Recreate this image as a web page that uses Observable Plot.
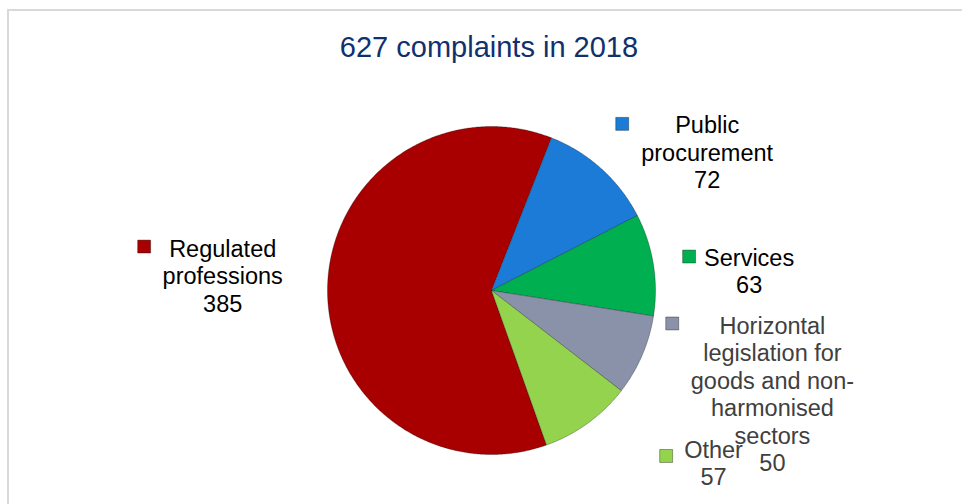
<!DOCTYPE html>
<html><head><meta charset="utf-8">
<script src="https://cdn.jsdelivr.net/npm/d3@7"></script>
<script src="https://cdn.jsdelivr.net/npm/@observablehq/plot@0.6"></script>
<style>
html,body{margin:0;padding:0;background:#fff;width:962px;height:504px;overflow:hidden;font-family:"Liberation Sans",Arial,sans-serif;}
#frame{position:absolute;left:7px;top:9px;width:980px;height:520px;border-left:2px solid #d9d9d9;border-top:2px solid #d9d9d9;}
#title{position:absolute;left:489px;top:33px;transform:translateX(-50%);font-size:29px;line-height:29px;color:#10306e;white-space:nowrap;}
#chart{position:absolute;left:0;top:80px;}
</style></head><body>
<div id="frame"></div>
<div id="title">627 complaints in 2018</div>
<div id="chart"></div>
<script>
// ---- data ----
const categories = ["Regulated professions", "Public procurement", "Services",
  "Horizontal legislation for goods and non-harmonised sectors", "Other"];
const values = [385, 72, 63, 50, 57];

// ---- style ----
const colors = ["#a80000", "#1b7bd6", "#00b050", "#8a92aa", "#94d34e"];
const textColors = ["#000000", "#000000", "#000000", "#404040", "#404040"];
// layout of labels / legend keys, in pie-radius units relative to the pie centre
const labelX = [-1.639, 1.315, 1.571, 1.713, 1.354];
const labelY = [0.092, 0.844, 0.121, -0.630, -1.050];
const keyX = [-2.118, 0.797, 1.205, 1.102, 1.065];
const keyY = [0.268, 1.016, 0.207, -0.201, -1.009];

const W = 962, H = 424, CX = 491, CY = 210, R = 164;
const START = (160.4) * Math.PI / 180;

function wrap(text, max) {
  const lines = []; let line = "";
  for (const word of text.split(" ")) {
    word.split(/(?<=-)/).forEach((part, j) => {
      const sep = j === 0 ? " " : "";
      if (!line) line = part;
      else if ((line + sep + part).length <= max) line = line + sep + part;
      else { lines.push(line); line = part; }
    });
  }
  if (line) lines.push(line);
  return lines.join("\n");
}

const arcs = d3.pie().sort(null).startAngle(START).endAngle(START + 2 * Math.PI)(values);
const slicePts = arcs.flatMap((a, i) => {
  const key = categories[i];
  const pts = [{key, x: 0, y: 0}];
  const n = Math.max(4, Math.ceil((a.endAngle - a.startAngle) / (Math.PI / 360)));
  for (let k = 0; k <= n; k++) {
    const t = a.startAngle + (a.endAngle - a.startAngle) * k / n;
    pts.push({key, x: Math.sin(t), y: Math.cos(t)});
  }
  pts.push({key, x: 0, y: 0});
  return pts;
});

const labels = categories.map((c, i) => ({
  key: c, x: labelX[i], y: labelY[i], kx: keyX[i], ky: keyY[i],
  text: wrap(c, 15) + "\n" + values[i], color: textColors[i]
}));

const chart = Plot.plot({
  width: W, height: H,
  marginLeft: 0, marginRight: 0, marginTop: 0, marginBottom: 0,
  style: {fontFamily: "'Liberation Sans', Arial, sans-serif", background: "transparent"},
  x: {domain: [-CX / R, (W - CX) / R], axis: null},
  y: {domain: [-(H - CY) / R, CY / R], axis: null},
  color: {type: "ordinal", domain: categories, range: colors},
  marks: [
    Plot.line(slicePts, {x: "x", y: "y", z: "key", fill: "key", stroke: "rgba(0,0,0,0.28)", strokeWidth: 1, curve: "linear"}),
    Plot.dot(labels, {x: "kx", y: "ky", fill: "key", symbol: "square", r: 7.3, stroke: "rgba(0,0,0,0.35)", strokeWidth: 1}),
    Plot.text(labels.filter(d => d.color === "#000000"), {x: "x", y: "y", text: "text", fill: "#000000", fontSize: 23.5, lineHeight: 1.166, textAnchor: "middle"}),
    Plot.text(labels.filter(d => d.color !== "#000000"), {x: "x", y: "y", text: "text", fill: "#404040", fontSize: 23.5, lineHeight: 1.166, textAnchor: "middle"})
  ]
});
document.getElementById("chart").appendChild(chart);
</script>
</body></html>
